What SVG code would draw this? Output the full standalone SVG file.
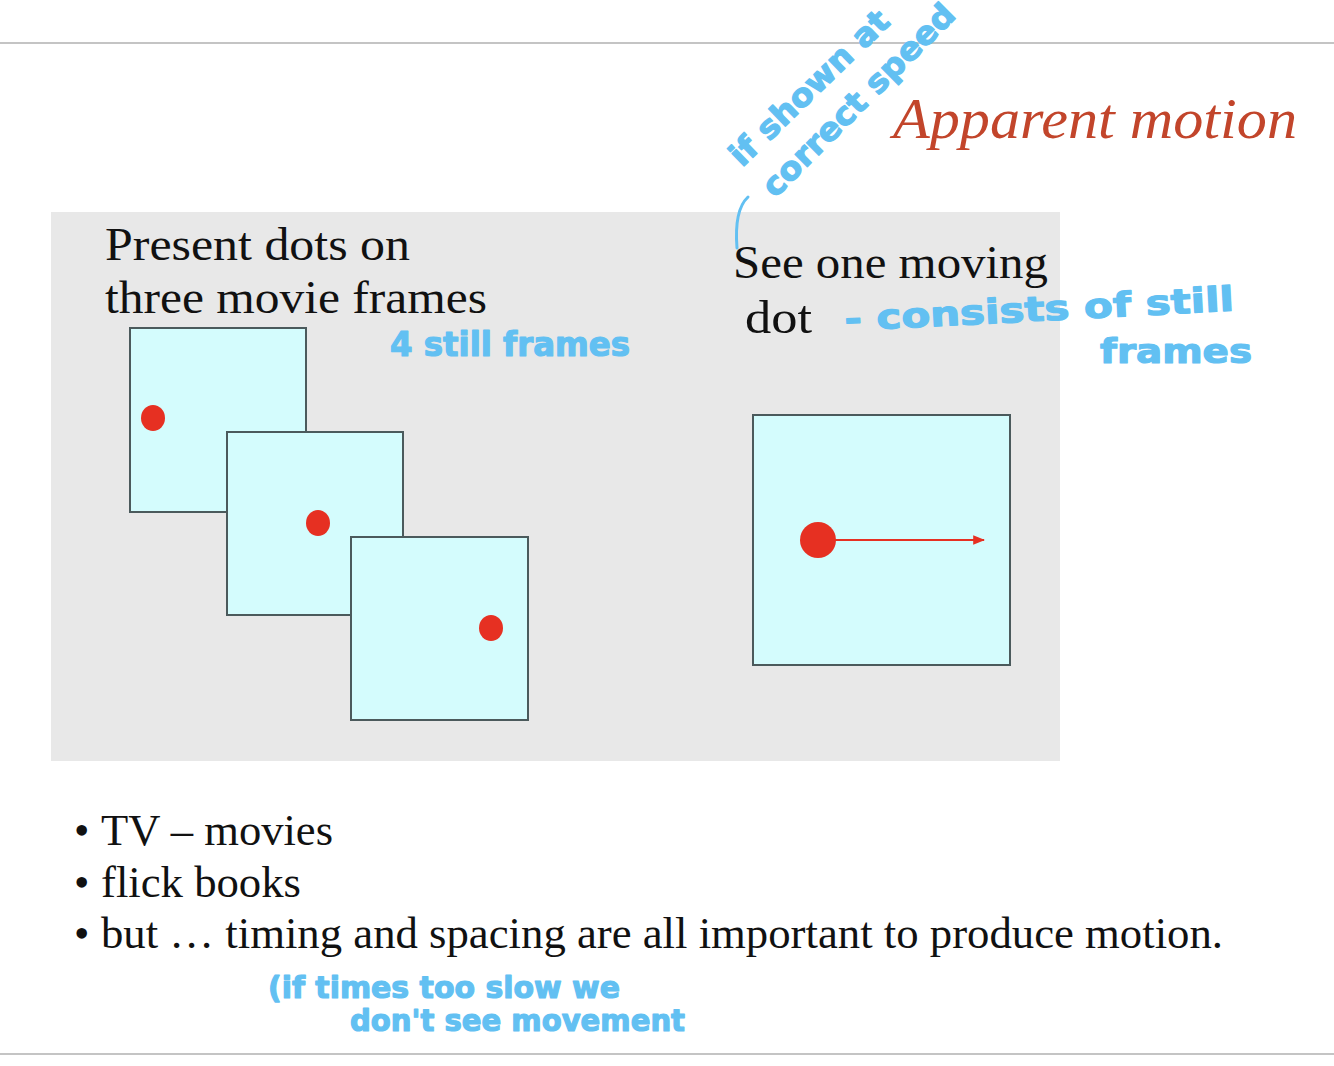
<svg xmlns="http://www.w3.org/2000/svg" width="1334" height="1066" viewBox="0 0 1334 1066">
<defs>
<style>
.rule{stroke:#c4c4c4;stroke-width:2}
.panel{fill:#e8e8e8}
.frame{fill:#d4fcfd;stroke:#4b5a5c;stroke-width:2}
.dot{fill:#e63022}
.slide{font-family:"Liberation Serif",serif;fill:#111}
.title{font-family:"Liberation Serif",serif;font-style:italic;fill:#c2452b;font-size:56px}
.hand{font-family:"DejaVu Sans",sans-serif;font-weight:bold;fill:#62c0f2;stroke:#62c0f2;stroke-width:1.2;stroke-linejoin:round}
</style>
<marker id="ah" viewBox="0 0 10 10" refX="9" refY="5" markerWidth="6" markerHeight="6" orient="auto" markerUnits="strokeWidth">
<path d="M0,1 L10,5 L0,9 Z" fill="#e63022"/>
</marker>
</defs>
<rect width="1334" height="1066" fill="#ffffff"/>
<line class="rule" x1="0" y1="43" x2="1334" y2="43"/>
<line class="rule" x1="0" y1="1054" x2="1334" y2="1054"/>

<g id="title">
<text class="title" x="893" y="138" textLength="404" lengthAdjust="spacingAndGlyphs">Apparent motion</text>
</g>

<g id="panel">
<rect class="panel" x="51" y="212" width="1009" height="549"/>
</g>

<g id="left-caption">
<text class="slide" x="105" y="260" font-size="46" textLength="305" lengthAdjust="spacingAndGlyphs">Present dots on</text>
<text class="slide" x="105" y="313" font-size="46" textLength="382" lengthAdjust="spacingAndGlyphs">three movie frames</text>
</g>

<g id="frame1">
<rect class="frame" x="130" y="328" width="176" height="184"/>
<ellipse class="dot" cx="153" cy="418" rx="12" ry="13"/>
</g>
<g id="frame2">
<rect class="frame" x="227" y="432" width="176" height="183"/>
<ellipse class="dot" cx="318" cy="523" rx="12" ry="13"/>
</g>
<g id="frame3">
<rect class="frame" x="351" y="537" width="177" height="183"/>
<ellipse class="dot" cx="491" cy="628" rx="12" ry="13"/>
</g>

<g id="right-caption">
<text class="slide" x="733" y="278" font-size="46" textLength="315" lengthAdjust="spacingAndGlyphs">See one moving</text>
<text class="slide" x="745" y="333" font-size="46" textLength="67" lengthAdjust="spacingAndGlyphs">dot</text>
</g>

<g id="moving-frame">
<rect class="frame" x="753" y="415" width="257" height="250"/>
<circle class="dot" cx="818" cy="540" r="18"/>
</g>

<g id="connectors">
<line x1="835" y1="540" x2="984" y2="540" stroke="#e63022" stroke-width="2" marker-end="url(#ah)"/>
</g>

<g id="bullets">
<text class="slide" x="74" y="845" font-size="44">•</text>
<text class="slide" x="101" y="845" font-size="44" textLength="232" lengthAdjust="spacingAndGlyphs">TV – movies</text>
<text class="slide" x="74" y="897" font-size="44">•</text>
<text class="slide" x="101" y="897" font-size="44" textLength="200" lengthAdjust="spacingAndGlyphs">flick books</text>
<text class="slide" x="74" y="948" font-size="44">•</text>
<text class="slide" x="101" y="948" font-size="44" textLength="1122" lengthAdjust="spacingAndGlyphs">but … timing and spacing are all important to produce motion.</text>
</g>

<g id="annotations">
<text class="hand" font-size="32" transform="translate(742,168) rotate(-44)" textLength="208" lengthAdjust="spacingAndGlyphs">if shown at</text>
<text class="hand" font-size="32" transform="translate(775,199) rotate(-45)" textLength="258" lengthAdjust="spacingAndGlyphs">correct speed</text>
<path d="M748,197 Q734,210 737,248" fill="none" stroke="#62c0f2" stroke-width="3" stroke-linecap="round"/>
<text class="hand" font-size="33" x="390" y="356" textLength="240" lengthAdjust="spacingAndGlyphs">4 still frames</text>
<text class="hand" font-size="34" x="845" y="331" textLength="390" lengthAdjust="spacingAndGlyphs" transform="rotate(-3 845 331)">- consists of still</text>
<text class="hand" font-size="34" x="1100" y="363" textLength="152" lengthAdjust="spacingAndGlyphs">frames</text>
<text class="hand" font-size="30" x="268" y="998" textLength="352" lengthAdjust="spacingAndGlyphs">(if times too slow we</text>
<text class="hand" font-size="30" x="350" y="1031" textLength="335" lengthAdjust="spacingAndGlyphs">don't see movement</text>
</g>
</svg>
